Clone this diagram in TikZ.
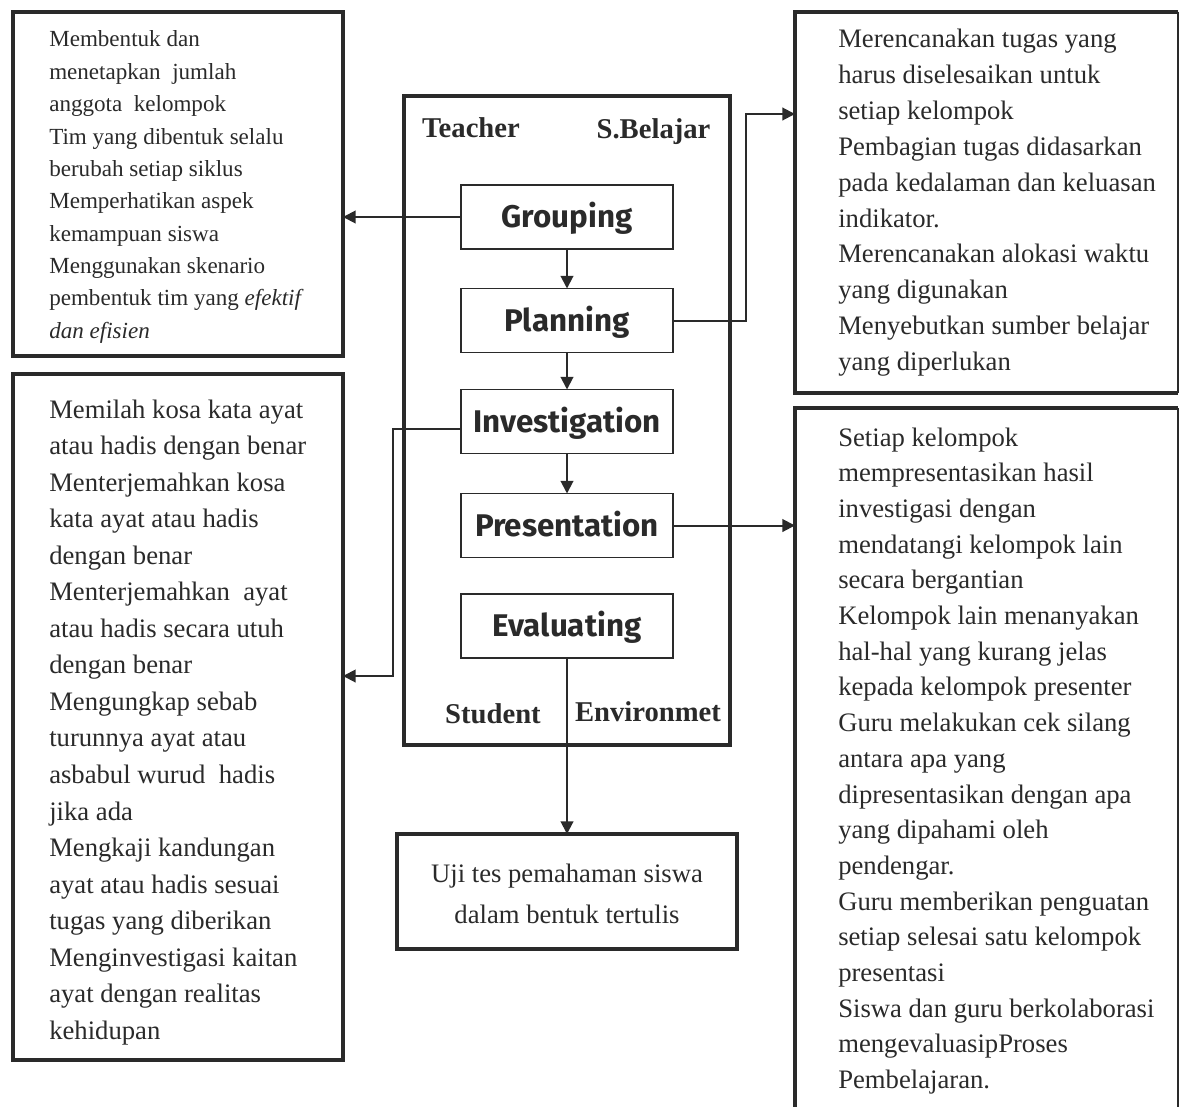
\documentclass[tikz,border=0pt]{standalone}
\usepackage{fontspec}
\setmainfont{Liberation Serif}
\newfontfamily\boxfont{Fira Sans}
\usetikzlibrary{arrows.meta,calc}
\definecolor{ink}{HTML}{2A2A2A}
\tikzset{
  outerbox/.style={draw=ink, line width=3pt, outer sep=0pt, inner sep=0pt},
  framebox/.style={draw=none, outer sep=0pt, inner sep=0pt},
  procbox/.style={draw=ink, line width=1.1pt, minimum width=159pt, minimum height=48pt,
     inner sep=0pt, outer sep=0pt, text=ink, font=\boxfont\bfseries\fontsize{23.5}{26}\selectfont,
     text height=16pt, text depth=0pt},
  arr/.style={draw=ink, line width=1.5pt, -{Triangle[length=9.5pt,width=9.5pt]}},
  bodytxt/.style={anchor=base west, inner sep=0pt, text=ink, font=\fontsize{20}{24}\selectfont},
  smalltxt/.style={anchor=base west, inner sep=0pt, text=ink, font=\fontsize{17.3}{20}\selectfont},
  roletxt/.style={anchor=base, inner sep=0pt, text=ink, font=\bfseries\fontsize{21.5}{24}\selectfont},
  ujitxt/.style={anchor=base, inner sep=0pt, text=ink, font=\fontsize{20}{24}\selectfont},
}
\begin{document}
\begin{tikzpicture}[x=0.75pt, y=-0.75pt]
\path[use as bounding box] (0,0) rectangle (1180,1106);
\clip (0,0) rectangle (1180,1106);

% outer boxes
\node[outerbox, minimum width=330.5*0.75pt, minimum height=343.5*0.75pt] (tlbox) at (177.75,184.25) {};
\node[outerbox, minimum width=330.5*0.75pt, minimum height=686*0.75pt] (blbox) at (177.75,717) {};
\node[framebox, minimum width=383*0.75pt, minimum height=381*0.75pt] (trbox) at (986.5,202.5) {};
\node[framebox, minimum width=383*0.75pt, minimum height=720*0.75pt] (brbox) at (986.5,768) {};
\node[draw=ink, line width=2.6pt, outer sep=0pt, inner sep=0pt, minimum width=326*0.75pt, minimum height=649*0.75pt] (cbox) at (567,420.5) {};
\node[outerbox, minimum width=340*0.75pt, minimum height=115*0.75pt] (uji) at (567,891.5) {};

\draw[ink, line width=3pt] (trbox.north east) -- (trbox.north west) -- (trbox.south west) -- (trbox.south east);
\draw[ink, line width=1.4pt] (trbox.north east) -- (trbox.south east);
\draw[ink, line width=3pt] (brbox.south west) -- (brbox.north west) -- (brbox.north east);
\draw[ink, line width=1.4pt] (brbox.north east) -- (brbox.south east);

% process boxes
\node[procbox] (grp) at (567,217) {Grouping};
\node[procbox] (pln) at (567,320.5) {Planning};
\node[procbox] (inv) at (567,421.5) {Investigation};
\node[procbox] (prs) at (567,525.5) {Presentation};
\node[procbox] (evl) at (567,626) {Evaluating};

% role labels
\node[roletxt] (teacher) at (471,137) {Teacher};
\node[roletxt] (sbelajar) at (653.5,138) {S.Belajar};
\node[roletxt] (student) at (493,723) {Student};
\node[roletxt] (environ) at (648,721) {Environmet};

% connectors
\draw[arr] (grp) -- (pln);
\draw[arr] (pln) -- (inv);
\draw[arr] (inv) -- (prs);
\draw[arr] (grp.west) -- (grp.west -| tlbox.east);
\coordinate (pc) at (746,114);
\draw[arr] (pln.east) -| (pc) -- (pc -| trbox.west);
\coordinate (ic1) at (461,429);
\coordinate (ic2) at (393,429);
\coordinate (ic3) at (393,676);
\draw[arr] (ic1) -- (ic2) -- (ic3) -- (ic3 -| blbox.east);
\draw[arr] (prs.east) -- (prs.east -| brbox.west);
\draw[arr] (evl.south) -- (uji.north);

% uji text
\node[ujitxt] (uji1) at (567,882) {Uji tes pemahaman siswa};
\node[ujitxt] (uji2) at (567,923) {dalam bentuk tertulis};

% top-left text
\foreach \t [count=\i] in {Membentuk dan, menetapkan~ jumlah, anggota~ kelompok,
  Tim yang dibentuk selalu, berubah setiap siklus, Memperhatikan aspek,
  kemampuan siswa, Menggunakan skenario, pembentuk tim yang \textit{efektif},
  \textit{dan efisien}}
  \node[smalltxt] (tl\i) at (49,{47+(\i-1)*32.35}) {\t};

% bottom-left text
\foreach \t [count=\i] in {Memilah kosa kata ayat, atau hadis dengan benar,
  Menterjemahkan kosa, kata ayat atau hadis, dengan benar,
  Menterjemahkan~ ayat, atau hadis secara utuh, dengan benar,
  Mengungkap sebab, turunnya ayat atau, asbabul wurud~ hadis, jika ada,
  Mengkaji kandungan, ayat atau hadis sesuai, tugas yang diberikan,
  Menginvestigasi kaitan, ayat dengan realitas, kehidupan}
  \node[bodytxt] (bl\i) at (49,{418+(\i-1)*36.55}) {\t};

% top-right text
\foreach \t [count=\i] in {Merencanakan tugas yang, harus diselesaikan untuk,
  setiap kelompok, Pembagian tugas didasarkan, pada kedalaman dan keluasan,
  indikator., Merencanakan alokasi waktu, yang digunakan,
  Menyebutkan sumber belajar, yang diperlukan}
  \node[bodytxt] (tr\i) at (838,{48+(\i-1)*35.8}) {\t};

% bottom-right text
\foreach \t [count=\i] in {Setiap kelompok, mempresentasikan hasil,
  investigasi dengan, mendatangi kelompok lain, secara bergantian,
  Kelompok lain menanyakan, hal-hal yang kurang jelas,
  kepada kelompok presenter, Guru melakukan cek silang, antara apa yang,
  dipresentasikan dengan apa, yang dipahami oleh, pendengar.,
  Guru memberikan penguatan, setiap selesai satu kelompok, presentasi,
  Siswa dan guru berkolaborasi, mengevaluasipProses, Pembelajaran.}
  \node[bodytxt] (br\i) at (838,{446+(\i-1)*35.7}) {\t};
\end{tikzpicture}
\end{document}
